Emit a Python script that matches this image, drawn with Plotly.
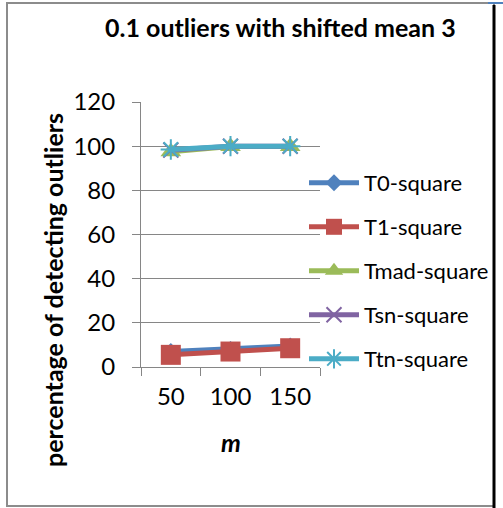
import plotly.graph_objects as go

categories = ["50", "100", "150"]
t0_square = [7.0, 8.0, 9.5]
t1_square = [5.5, 7.0, 8.5]
tmad_square = [97.5, 99.8, 99.8]
tsn_square = [98.2, 100.0, 100.0]
ttn_square = [98.5, 100.0, 100.0]
y_ticks = [0, 20, 40, 60, 80, 100, 120]

W, H = 503, 508
L, R, T, B = 141, 320, 102, 367  # plot area in pixels

def px(xp):
    return (xp - L) / (R - L)

def py(yp):
    return (B - yp) / (B - T)

FONT = "Lato"
series = [
    ("T0-square", t0_square, "#4F81BD", dict(symbol="diamond", size=13)),
    ("T1-square", t1_square, "#C0504D", dict(symbol="square", size=20)),
    ("Tmad-square", tmad_square, "#9BBB59", dict(symbol="triangle-up", size=18)),
    ("Tsn-square", tsn_square, "#8064A2", dict(symbol="x-thin-open", size=15, line=dict(width=2))),
    ("Ttn-square", ttn_square, "#4BACC6", dict(symbol="asterisk-open", size=17, line=dict(width=2))),
]
legend_y = [183, 227, 271, 315, 359]

fig = go.Figure()
for i, (name, vals, col, mk) in enumerate(series):
    lg = "legend" if i == 0 else f"legend{i+1}"
    m = dict(color=col, **mk)
    if "line" in m:
        m["line"] = dict(color=col, width=mk["line"]["width"])
    fig.add_trace(go.Scatter(x=categories, y=vals, name=name, mode="lines+markers",
                             line=dict(color=col, width=5), marker=m, legend=lg))

layout_legends = {}
for i, yy in enumerate(legend_y):
    key = "legend" if i == 0 else f"legend{i+1}"
    layout_legends[key] = dict(x=px(304), xanchor="left", y=py(yy), yanchor="middle",
                               bgcolor="rgba(0,0,0,0)", font=dict(family=FONT, size=22, color="#000"),
                               itemwidth=50, itemsizing="trace")

fig.update_layout(
    width=W, height=H,
    margin=dict(l=L, r=W - R, t=T, b=H - B, autoexpand=False),
    paper_bgcolor="white", plot_bgcolor="white",
    showlegend=True,
    font=dict(family=FONT, color="#000"),
    xaxis=dict(type="category", range=[-0.5, 2.5], tickson="boundaries", ticks="outside",
               ticklen=8, tickcolor="#868686", showline=True, linecolor="#868686", linewidth=1,
               showgrid=False, tickfont=dict(family=FONT, size=24, color="#000"), fixedrange=True,
               ticklabelstandoff=8),
    yaxis=dict(range=[0, 120], tickvals=y_ticks, ticks="outside", ticklen=8, tickcolor="#868686",
               showline=True, linecolor="#868686", linewidth=1, showgrid=True, gridcolor="#868686",
               gridwidth=1, zeroline=False, tickfont=dict(family=FONT, size=24, color="#000"),
               ticklabelstandoff=12),
    annotations=[
        dict(text="<b>0.1 outliers with shifted mean 3</b>", xref="paper", yref="paper",
             x=px(280), y=py(27), xanchor="center", yanchor="middle", showarrow=False,
             font=dict(family=FONT, size=25, color="#000")),
        dict(text="<b>percentage of detecting outliers</b>", xref="paper", yref="paper",
             x=px(53), y=py(290), xanchor="center", yanchor="middle", textangle=-90,
             showarrow=False, font=dict(family=FONT, size=25, color="#000")),
        dict(text="<b><i>m</i></b>", xref="paper", yref="paper", x=px(231), y=py(442),
             xanchor="center", yanchor="middle", showarrow=False,
             font=dict(family=FONT, size=25, color="#000")),
    ],
    shapes=[
        dict(type="rect", xref="paper", yref="paper", x0=px(7), x1=px(494), y0=py(506), y1=py(3),
             line=dict(color="#8C8C8C", width=2), layer="below"),
        dict(type="line", xref="paper", yref="paper", x0=px(494), x1=px(494), y0=py(508), y1=py(5),
             line=dict(color="#000000", width=3)),
        dict(type="line", xref="paper", yref="paper", x0=px(488), x1=px(503), y0=py(3), y1=py(3),
             line=dict(color="#4F81BD", width=2)),
    ],
    **layout_legends,
)

fig.write_html("out.html")
